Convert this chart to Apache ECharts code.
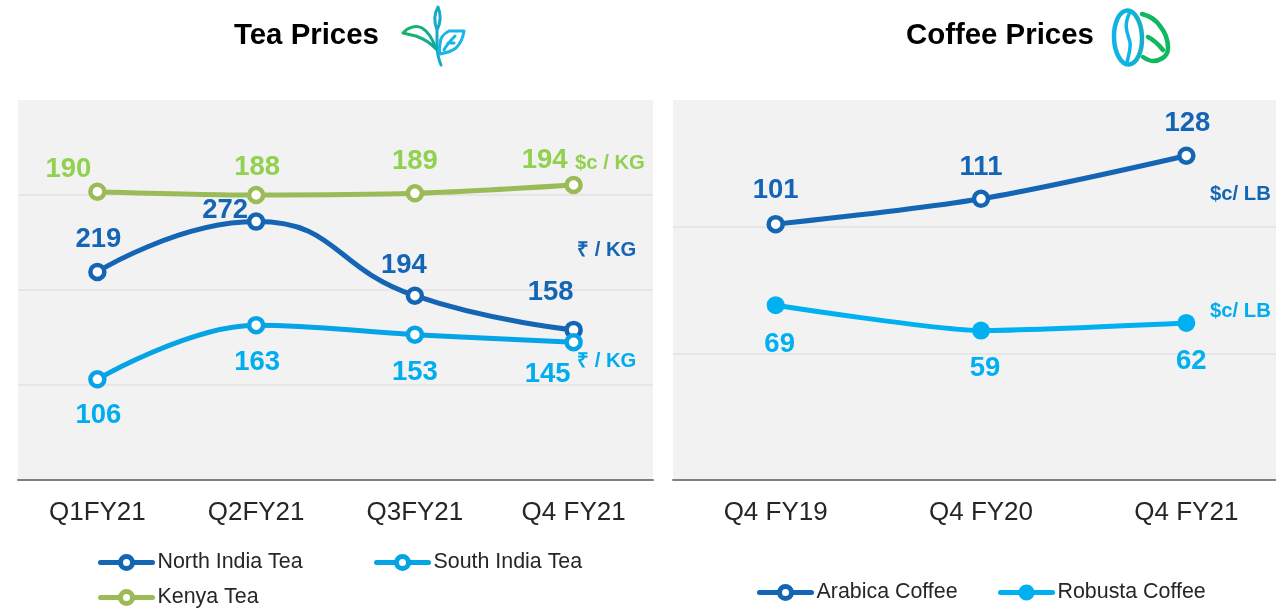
<!DOCTYPE html>
<html>
<head>
<meta charset="utf-8">
<script src="https://cdn.jsdelivr.net/npm/echarts@6/dist/echarts.min.js"></script>
<style>html,body{margin:0;padding:0;background:#fff}#c{width:1276px;height:608px}</style>
</head>
<body>
<div id="c"></div>
<script>
const teaCategories = ['Q1FY21', 'Q2FY21', 'Q3FY21', 'Q4 FY21'];
const northIndiaTea = [219, 272, 194, 158];
const southIndiaTea = [106, 163, 153, 145];
const kenyaTea = [190, 188, 189, 194];
const coffeeCategories = ['Q4 FY19', 'Q4 FY20', 'Q4 FY21'];
const arabicaCoffee = [101, 111, 128];
const robustaCoffee = [69, 59, 62];

const FONT = '"Liberation Sans", Arial, sans-serif';
const BLUE = '#1565b5', SKY = '#06a3e6', GREEN = '#9bbb59', BRIGHT = '#00b0f0';
const LABEL_GREEN = '#92d050', LABEL_SKY = '#00adef';

// Label nudges, in pixels, point by point
const northOffsets = [[1, -1], [-31, 20], [-11, 1], [-23, -6]];
const southOffsets = [[1, 5], [1, 6], [0, 7], [-26, 1]];
const kenyaOffsets = [[-29, 9], [1, 4], [0, -1], [-29, 7]];
const arabicaOffsets = [[0, -2], [0, 0], [1, -1]];
const robustaOffsets = [[4, 8], [4, 7], [5, 7]];

function points(values, offsets, color) {
  return values.map((v, i) => ({
    value: v,
    label: { offset: offsets[i], color: color }
  }));
}
function line(name, xi, yi, values, offsets, pos, lineColor, labelColor, smooth, filled) {
  return {
    name: name, type: 'line', xAxisIndex: xi, yAxisIndex: yi, smooth: smooth,
    data: points(values, offsets, labelColor),
    symbol: 'circle', symbolSize: filled ? 18 : 14,
    lineStyle: { color: lineColor, width: 5, cap: 'round' },
    itemStyle: filled
      ? { color: lineColor, borderColor: lineColor, borderWidth: 0 }
      : { color: '#fff', borderColor: lineColor, borderWidth: 4.5 },
    label: { show: true, position: pos, distance: 8, fontFamily: FONT, fontSize: 27.5, fontWeight: 'bold' },
    z: 3
  };
}
function xAxis(gi, cats) {
  return {
    type: 'category', gridIndex: gi, data: cats, boundaryGap: true,
    axisLine: { show: true, lineStyle: { color: '#808080', width: 2 } },
    axisTick: { show: false },
    axisLabel: { color: '#262626', fontFamily: FONT, fontSize: 26, margin: 20, interval: 0 }
  };
}
function yAxis(gi, max, interval, min, showGrid) {
  const a = {
    type: 'value', gridIndex: gi, min: min, max: max,
    axisLine: { show: false }, axisTick: { show: false }, axisLabel: { show: false },
    splitLine: { show: showGrid, showMaxLine: false, lineStyle: { color: '#e6e6e6', width: 2 } }
  };
  if (interval) a.interval = interval;
  return a;
}
function legend(name, left, top, ringed) {
  return {
    data: [name], left: left, top: top, orient: 'horizontal',
    itemWidth: 52, itemHeight: 15, padding: 0, selectedMode: false,
    lineStyle: { width: 5 },
    itemStyle: ringed ? { borderWidth: 5 } : { borderColor: BRIGHT, borderWidth: 4 },
    textStyle: { color: '#262626', fontFamily: FONT, fontSize: 21.4 }
  };
}
function unit(text, x, y, color) {
  return { type: 'text', x: x, y: y, z: 10,
    style: { text: text, fill: color, font: 'bold 20.3px ' + FONT } };
}
function title(text, x, y) {
  return { type: 'text', x: x, y: y, z: 10,
    style: { text: text, fill: '#000', font: 'bold 29.4px ' + FONT } };
}
function grad(c1, c2) {
  return { type: 'linear', x: 0, y: 0, x2: 1, y2: 0, colorStops: [{ offset: 0, color: c1 }, { offset: 1, color: c2 }] };
}
let iconCount = 0;
function icon(d, stroke, w) {
  const name = 'iconShape' + (iconCount++);
  echarts.graphic.registerShape(name, echarts.graphic.extendPath(d, {}));
  return { type: name, z: 10, shape: {},
    style: { fill: 'none', stroke: stroke, lineWidth: w || 3, lineCap: 'round', lineJoin: 'round' } };
}

const option = {
  animation: false,
  backgroundColor: '#fff',
  grid: [
    { left: 18, top: 100, width: 635, height: 380, show: true, backgroundColor: '#f2f2f2', borderWidth: 0, outerBoundsMode: 'none' },
    { left: 673, top: 100, width: 616, height: 380, show: true, backgroundColor: '#f2f2f2', borderWidth: 0, outerBoundsMode: 'none' }
  ],
  xAxis: [xAxis(0, teaCategories), xAxis(1, coffeeCategories)],
  yAxis: [yAxis(0, 400, 100, 0, true), yAxis(0, 245, null, 17, false), yAxis(1, 150, 50, 0, true)],
  legend: [
    legend('North India Tea', 98, 552, true),
    legend('South India Tea', 374, 552, true),
    legend('Kenya Tea', 98, 587, true),
    legend('Arabica Coffee', 757, 582, true),
    legend('Robusta Coffee', 998, 582, false)
  ],
  series: [
    line('North India Tea', 0, 0, northIndiaTea, northOffsets, 'top', BLUE, BLUE, 0.5, false),
    line('South India Tea', 0, 0, southIndiaTea, southOffsets, 'bottom', SKY, LABEL_SKY, 0.4, false),
    line('Kenya Tea', 0, 1, kenyaTea, kenyaOffsets, 'top', GREEN, LABEL_GREEN, 0.3, false),
    line('Arabica Coffee', 1, 2, arabicaCoffee, arabicaOffsets, 'top', BLUE, BLUE, 0.3, false),
    line('Robusta Coffee', 1, 2, robustaCoffee, robustaOffsets, 'bottom', BRIGHT, BRIGHT, 0.2, true)
  ],
  graphic: [
    title('Tea Prices', 234, 21),
    title('Coffee Prices', 906, 21),
    unit('$c / KG', 575, 153, LABEL_GREEN),
    unit('₹ / KG', 577, 240, BLUE),
    unit('₹ / KG', 577, 351, LABEL_SKY),
    unit('$c/ LB', 1210, 184, BLUE),
    unit('$c/ LB', 1210, 301, LABEL_SKY),
    // tea sprig
    icon('M441 65 C438 58 437 52 437 44 C437 38 437 34 437 30 C434 22 434 14 438 7 C441 14 441 22 437 30', '#14abc4'),
    icon('M403 33 C408 27 416 25 422 28 C429 32 433 40 436 49 C430 42 424 39 416 36 C411 35 407 34 403 33 Z', grad('#12b75f', '#14a89c')),
    icon('M464 31 L449 31 C443 34 440 38 440 44 C439 48 439 51 440 54 C447 53 452 51 456 48 C460 44 463 38 464 31 Z M444 50 C447 44 451 40 455 36 M448 43 L454 43', '#19b4e8'),
    // coffee bean and leaf
    { type: 'ellipse', z: 10, shape: { cx: 1128, cy: 37.5, rx: 14, ry: 27 }, rotation: 0.03, originX: 1128, originY: 37.5,
      style: { fill: 'none', stroke: grad('#0fb4ea', '#14b0c8'), lineWidth: 4.5 } },
    icon('M1130 12 C1124 24 1126 30 1130 42 C1131 50 1128 56 1127 63', '#0fb4ea', 3.5),
    icon('M1142 14 C1150 16 1156 20 1160 26 C1165 32 1168 40 1168 48 C1168 58 1158 61 1153 61 C1149 61 1146 59 1143 57 M1148 37 C1154 40 1159 45 1163 50', '#10b860', 4.5)
  ]
};
echarts.init(document.getElementById('c')).setOption(option);
</script>
</body>
</html>
